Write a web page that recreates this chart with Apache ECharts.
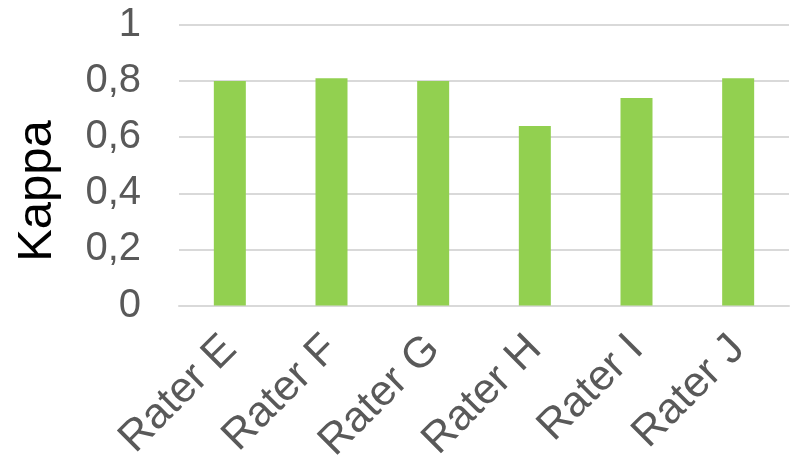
<!DOCTYPE html>
<html>
<head>
<meta charset="utf-8">
<style>
  html, body { margin: 0; padding: 0; background: #fff; }
  #chart { width: 798px; height: 460px; }
</style>
<script src="https://cdn.jsdelivr.net/npm/echarts@6/dist/echarts.min.js"></script>
</head>
<body>
<div id="chart"></div>
<script>
const raters = ['Rater E', 'Rater F', 'Rater G', 'Rater H', 'Rater I', 'Rater J']
const kappa = [0.80, 0.81, 0.80, 0.64, 0.74, 0.81]
const yTicks = [0, 0.2, 0.4, 0.6, 0.8, 1]

const labelFont = 'Liberation Sans, Arial, sans-serif'
const chart = echarts.init(document.getElementById('chart'), null, { renderer: 'canvas' })

chart.setOption({
  animation: false,
  grid: {
    left: 179, right: 9, top: 25, bottom: 154.5,
    containLabel: false,
    outerBoundsMode: 'none',
  },
  xAxis: {
    type: 'category',
    data: raters,
    axisLine: { lineStyle: { color: '#d9d9d9', width: 2 } },
    axisTick: { show: false },
    axisLabel: {
      rotate: 45,
      margin: 37,
      color: '#595959',
      fontSize: 43,
      fontFamily: labelFont,
      interval: 0,
    },
  },
  yAxis: {
    type: 'value',
    min: 0,
    max: 1,
    interval: 0.2,
    axisLine: { show: false },
    axisTick: { show: false },
    splitLine: { lineStyle: { color: '#d9d9d9', width: 2 } },
    axisLabel: {
      margin: 38,
      color: '#595959',
      fontSize: 40,
      fontFamily: labelFont,
      formatter: (v) => {
        const hit = yTicks.find((t) => Math.abs(t - v) < 1e-9)
        return hit === undefined ? '' : String(hit).replace('.', ',')
      },
    },
  },
  graphic: [
    {
      type: 'text',
      x: 37,
      y: 191,
      rotation: Math.PI / 2,
      style: {
        text: 'Kappa',
        fill: '#000',
        fontSize: 49,
        fontFamily: labelFont,
        textAlign: 'center',
        textVerticalAlign: 'middle',
      },
    },
  ],
  series: [
    {
      type: 'bar',
      data: kappa,
      barWidth: 32,
      itemStyle: { color: '#92d050' },
    },
  ],
})
</script>
</body>
</html>
